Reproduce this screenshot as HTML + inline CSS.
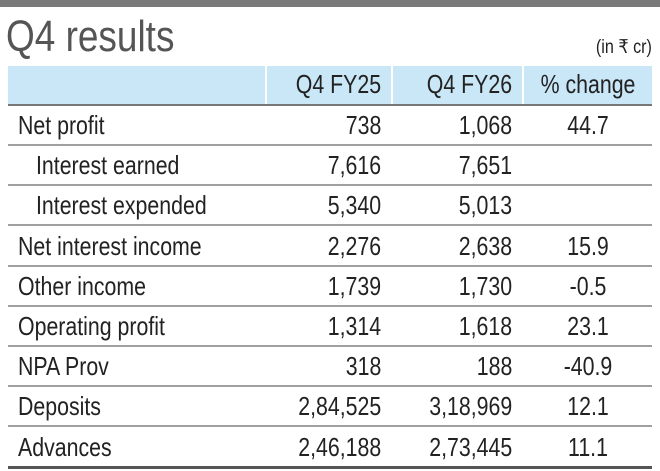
<!DOCTYPE html>
<html><head><style>
body{margin:0;width:660px;height:471px;background:#fff;position:relative;overflow:hidden;font-family:"Liberation Sans",sans-serif;color:#222}
.top{position:absolute;left:0;top:0;width:660px;height:7px;background:#7a7a7a}
.title{position:absolute;left:6px;top:12px;font-size:44px;color:#555;transform:scaleX(0.84);transform-origin:left}
.unit{position:absolute;right:8px;top:36px;font-size:19px;color:#222;transform:scaleX(0.85);transform-origin:right}
.hdr{position:absolute;left:8px;top:66px;width:644px;height:38px;background:#c9e7f7;border-bottom:2px solid #777}
.div{position:absolute;top:66px;height:38px;width:2px;background:#fff}
.row{position:absolute;left:8px;width:644px;height:39px;border-bottom:2px solid #a0a0a0}
.t{position:absolute;font-size:26px;line-height:41px;white-space:nowrap;transform:scaleX(0.82)}
.l{transform-origin:left}.r{transform-origin:right}.c{transform-origin:center}
</style></head><body>
<div class="top"></div>
<div class="title">Q4 results</div>
<div class="unit">(in ₹ cr)</div>
<div class="hdr"></div>
<div class="div" style="left:265px"></div>
<div class="div" style="left:391px"></div>
<div class="div" style="left:522px"></div>
<div class="t r" style="top:64px;right:279px">Q4 FY25</div>
<div class="t r" style="top:64px;right:148px">Q4 FY26</div>
<div class="t c" style="top:64px;left:524px;width:128px;text-align:center">% change</div>
<div id="rows"></div>
<script>
var d=[["Net profit","738","1,068","44.7",0],["Interest earned","7,616","7,651","",1],["Interest expended","5,340","5,013","",1],["Net interest income","2,276","2,638","15.9",0],["Other income","1,739","1,730","-0.5",0],["Operating profit","1,314","1,618","23.1",0],["NPA Prov","318","188","-40.9",0],["Deposits","2,84,525","3,18,969","12.1",0],["Advances","2,46,188","2,73,445","11.1",0]];
var h="";
for(var i=0;i<d.length;i++){var y=105+i*40.2;var last=i==d.length-1;
h+='<div class="row" style="top:'+y+'px;'+(last?'border-bottom:3px solid #555':'')+'"></div>';
h+='<div class="t l" style="top:'+y+'px;left:'+(d[i][4]?36:18)+'px">'+d[i][0]+'</div>';
h+='<div class="t r" style="top:'+y+'px;right:279px">'+d[i][1]+'</div>';
h+='<div class="t r" style="top:'+y+'px;right:148px">'+d[i][2]+'</div>';
h+='<div class="t c" style="top:'+y+'px;left:524px;width:128px;text-align:center">'+d[i][3]+'</div>';}
document.getElementById("rows").innerHTML=h;
</script>
</body></html>
